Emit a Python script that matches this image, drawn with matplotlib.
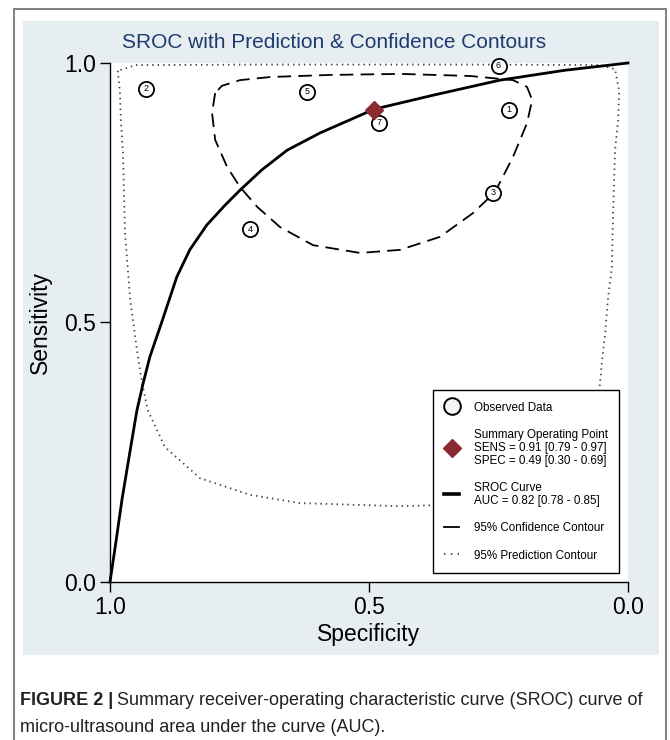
import matplotlib
matplotlib.use('Agg')
import matplotlib.pyplot as plt
from matplotlib.lines import Line2D
from matplotlib.patches import Rectangle

plt.rcParams['font.family'] = ['Liberation Sans', 'DejaVu Sans']

# estudios observados (especificidad, sensibilidad)
study_id = ['1', '2', '3', '4', '5', '6', '7']
study_spec = [0.23, 0.93, 0.26, 0.73, 0.62, 0.25, 0.48]
study_sens = [0.91, 0.95, 0.75, 0.68, 0.945, 0.995, 0.885]

# punto resumen
summary_spec = 0.49
summary_sens = 0.91

# curva SROC
sroc_spec = [1.000, 0.988, 0.977, 0.961, 0.948, 0.936, 0.923, 0.900, 0.884,
             0.871, 0.846, 0.813, 0.778, 0.749, 0.707, 0.658, 0.595, 0.490,
             0.376, 0.247, 0.122, 0.000]
sroc_sens = [0.000, 0.081, 0.158, 0.254, 0.331, 0.383, 0.434, 0.501, 0.549,
             0.588, 0.640, 0.688, 0.726, 0.755, 0.794, 0.832, 0.865, 0.911,
             0.938, 0.967, 0.986, 1.000]

# contorno de confianza 95%
conf_spec = [0.797, 0.803, 0.797, 0.774, 0.749, 0.716, 0.672, 0.608, 0.517,
             0.440, 0.363, 0.299, 0.257, 0.222, 0.195, 0.185, 0.195, 0.222,
             0.305, 0.440, 0.575, 0.691, 0.749, 0.784, 0.797]
conf_sens = [0.942, 0.904, 0.852, 0.800, 0.761, 0.723, 0.684, 0.649, 0.634,
             0.640, 0.665, 0.711, 0.751, 0.819, 0.884, 0.929, 0.954, 0.967,
             0.975, 0.979, 0.977, 0.973, 0.967, 0.956, 0.942]

# contorno de prediccion 95%
pred_spec = [0.985, 0.981, 0.979, 0.975, 0.971, 0.961, 0.948, 0.938, 0.927,
             0.894, 0.826, 0.730, 0.633, 0.440, 0.247, 0.170, 0.112, 0.073,
             0.058, 0.050, 0.044, 0.039, 0.031, 0.029, 0.025, 0.019, 0.017,
             0.025, 0.054, 0.300, 0.700, 0.950, 0.985]
pred_sens = [0.985, 0.946, 0.890, 0.827, 0.672, 0.543, 0.447, 0.383, 0.331,
             0.260, 0.200, 0.168, 0.152, 0.146, 0.152, 0.171, 0.206, 0.264,
             0.340, 0.428, 0.480, 0.543, 0.607, 0.703, 0.832, 0.890, 0.946,
             0.988, 0.996, 0.997, 0.997, 0.996, 0.985]

tick_vals = [1.0, 0.5, 0.0]
tick_labels = ['1.0', '0.5', '0.0']

legend_labels = ['Observed Data',
                 'Summary Operating Point\nSENS = 0.91 [0.79 - 0.97]\nSPEC = 0.49 [0.30 - 0.69]',
                 'SROC Curve\nAUC = 0.82 [0.78 - 0.85]',
                 '95% Confidence Contour',
                 '95% Prediction Contour']

W, H = 670, 740
fig = plt.figure(figsize=(W / 100, H / 100), dpi=100)


def fx(px):
    return px / W


def fy(py):
    return 1 - py / H


# fondo azul y marco exterior (detras de los ejes)
fig.patches.append(Rectangle((fx(23), fy(655)), (659 - 23) / W, (655 - 21) / H,
                             transform=fig.transFigure, facecolor='#e6eef1',
                             edgecolor='none', zorder=-10))
fig.patches.append(Rectangle((fx(14), fy(760)), (666 - 14) / W, (760 - 9) / H,
                             transform=fig.transFigure, fill=False,
                             edgecolor='#6a6a6a', linewidth=1.2, zorder=-10))

ax = fig.add_axes([fx(110), fy(582), 518 / W, 519 / H])
ax.set_facecolor('white')
ax.set_xlim(1, 0)
ax.set_ylim(0, 1)
for s in ['top', 'right']:
    ax.spines[s].set_visible(False)
ax.spines['left'].set_linewidth(1.0)
ax.spines['bottom'].set_linewidth(1.0)
ax.set_xticks(tick_vals)
ax.set_xticklabels(tick_labels)
ax.set_yticks(tick_vals)
ax.set_yticklabels(tick_labels)
ax.tick_params(length=7, width=1, labelsize=16.5, pad=3)

ax.plot(pred_spec, pred_sens, color='#444444', lw=1.3, ls=(0, (0.8, 2.2)), clip_on=False)
ax.plot(conf_spec, conf_sens, color='black', lw=1.3, ls=(0, (7.5, 4)), clip_on=False)
ax.plot(sroc_spec, sroc_sens, color='black', lw=2.0, clip_on=False, zorder=3,
        solid_joinstyle='round')

ax.scatter(study_spec, study_sens, s=120, facecolor='white', edgecolor='black',
           linewidth=1.3, zorder=4, clip_on=False)
for lab, x, y in zip(study_id, study_spec, study_sens):
    ax.text(x, y, lab, fontsize=6.5, ha='center', va='center', zorder=5)

ax.plot([summary_spec], [summary_sens], marker='D', ls='none', color='#8b2a30',
        markersize=9, zorder=6)

handles = [
    Line2D([], [], marker='o', ls='none', mfc='#f5f5f5', mec='black', mew=1.4, ms=12),
    Line2D([], [], marker='D', ls='none', color='#8b2a30', ms=9.5),
    Line2D([], [], color='black', lw=2.6),
    Line2D([], [], color='black', lw=1.3),
    Line2D([], [], color='#444444', lw=1.3, ls=(0, (0.8, 3))),
]
leg = ax.legend(handles, legend_labels, loc='lower right',
                bbox_to_anchor=(0.983, 0.017), borderaxespad=0,
                fontsize=8.4, handlelength=1.25, handleheight=1.0,
                handletextpad=1.25, labelspacing=1.3, borderpad=1.0,
                fancybox=False, framealpha=1, edgecolor='black')
leg.get_frame().set_linewidth(1.0)
for t in leg.get_texts():
    t.set_linespacing(1.1)

fig.text(fx(334), fy(42), 'SROC with Prediction & Confidence Contours',
         ha='center', va='center', fontsize=15, color='#1e3a6e')
fig.text(fx(40), fy(322), 'Sensitivity', rotation=90, ha='center', va='center',
         fontsize=16.5)
fig.text(fx(369), fy(634), 'Specificity', ha='center', va='center', fontsize=16.5)

# pie de figura
cap_size = 13
t1 = fig.text(fx(20), fy(705), 'FIGURE 2 |', fontweight='bold', fontsize=cap_size,
              va='baseline', color='#222222')
renderer = fig.canvas.get_renderer()
bb = t1.get_window_extent(renderer)
fig.text(bb.x1 / W + 0.006, fy(705),
         'Summary receiver-operating characteristic curve (SROC) curve of',
         fontsize=cap_size, va='baseline', color='#222222')
fig.text(fx(20), fy(732), 'micro-ultrasound area under the curve (AUC).',
         fontsize=cap_size, va='baseline', color='#222222')

fig.savefig('out.png', dpi=100)
